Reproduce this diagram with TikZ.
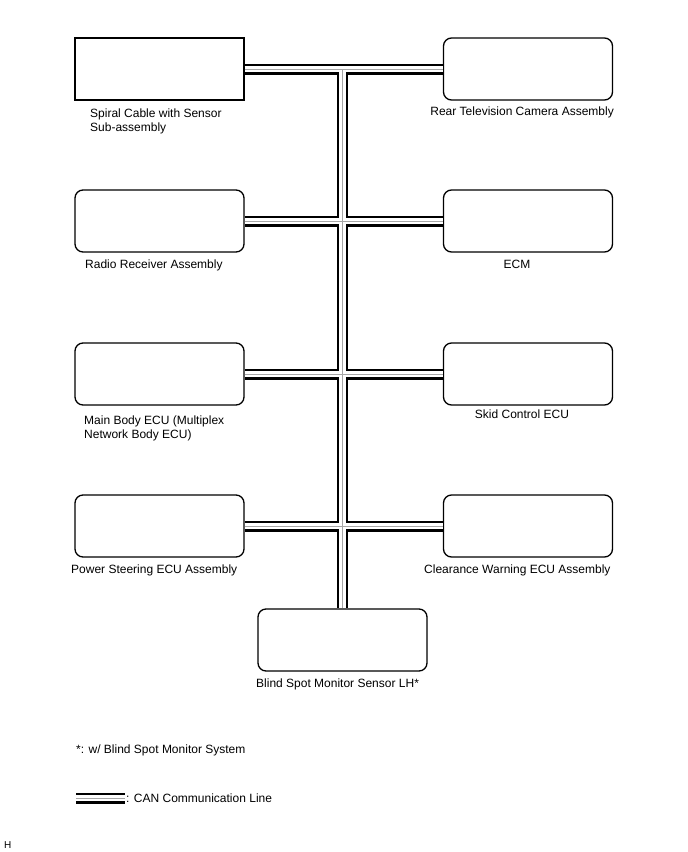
\documentclass[tikz,border=0pt]{standalone}
\usepackage{fontspec}
\setmainfont{Liberation Sans}
\usetikzlibrary{calc}

\begin{document}
\begin{tikzpicture}[x=1pt,y=-1pt,
 ecu/.style={draw,fill=white,line width=1.3pt,rounded corners=8pt,minimum width=169pt,minimum height=62pt,inner sep=0pt},
 canbus/.style={preaction={draw=black,line width=11pt},draw=white,line width=6.6pt,postaction={draw=gray!70,line width=1pt}},
 lbl/.style={inner sep=0pt,font=\fontsize{12}{14}\selectfont,anchor=base west,align=left}]
 \useasboundingbox (0,0) rectangle (688,852);
 % control units
 \node[ecu,sharp corners] (spiral) at (159.5,69) {};
 \node[ecu] (rearcam) at (528,69) {};
 \node[ecu] (radio) at (159.5,221) {};
 \node[ecu] (ecm) at (528,221) {};
 \node[ecu] (mainbody) at (159.5,374) {};
 \node[ecu] (skid) at (528,374) {};
 \node[ecu] (pwrsteer) at (159.5,526) {};
 \node[ecu] (clearance) at (528,526) {};
 \node[ecu] (bsm) at (342.5,640) {};
 % CAN bus
 \draw[canbus] (spiral.east)--(rearcam.west) (radio.east)--(ecm.west)
 (mainbody.east)--(skid.west) (pwrsteer.east)--(clearance.west)
 (bsm.north |- spiral.east)--(bsm.north);
 % labels (base = last line)
 \node[lbl] (spirallbl) at (90,131) {Spiral Cable with Sensor\\Sub-assembly};
 \node[lbl,anchor=base east] (rearcamlbl) at (614,115) {Rear Television Camera Assembly};
 \node[lbl] (radiolbl) at (85,268) {Radio Receiver Assembly};
 \node[lbl,anchor=base] (ecmlbl) at (517,268) {ECM};
 \node[lbl] (mainbodylbl) at (84,438) {Main Body ECU (Multiplex\\Network Body ECU)};
 \node[lbl,anchor=base] (skidlbl) at (522,418) {Skid Control ECU};
 \node[lbl] (pwrsteerlbl) at (71,573) {Power Steering ECU Assembly};
 \node[lbl] (clearancelbl) at (424,573) {Clearance Warning ECU Assembly};
 \node[lbl] (bsmlbl) at (256,687) {Blind Spot Monitor Sensor LH*};
 % legend
 \node[lbl] (notelbl) at (76,753) {*: w/ Blind Spot Monitor System};
 \coordinate (canA) at (76,798);
 \coordinate (canB) at (125,798);
 \draw[canbus] (canA)--(canB);
 \node[lbl] (canlbl) at ($(canB)+(1,4)$) {: CAN Communication Line};
 \node[lbl,font=\fontsize{10}{12}\selectfont] (figid) at (4,848) {H};
\end{tikzpicture}
\end{document}
